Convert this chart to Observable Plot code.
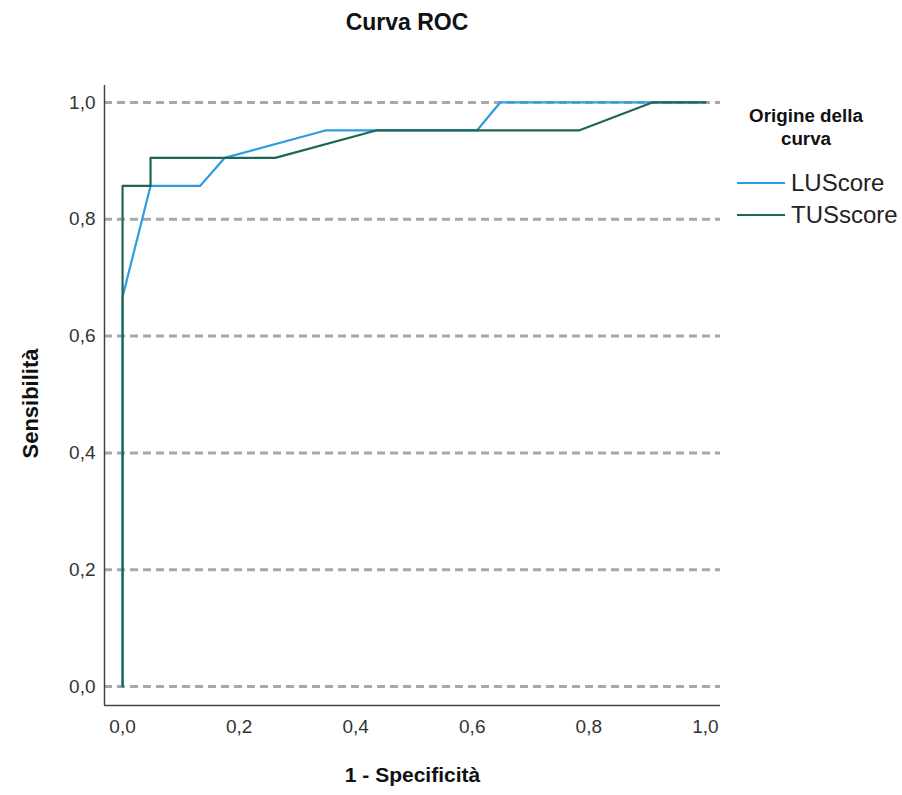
<!DOCTYPE html>
<html>
<head>
<meta charset="utf-8">
<script src="https://cdn.jsdelivr.net/npm/d3@7"></script>
<script src="https://cdn.jsdelivr.net/npm/@observablehq/plot@0.6"></script>
<style>
  body { margin: 0; background: #fff; font-family: "Liberation Sans", Arial, sans-serif; }
  #wrap { position: relative; width: 902px; height: 795px; }
  #title { position: absolute; left: 0; top: 0; width: 814px; height: 50px; text-align: center; font-weight: bold; font-size: 23px; line-height: 44px; color: #111; }
  #chart { position: absolute; left: 0; top: 50px; }
  #legend { position: absolute; left: 730px; top: 104px; width: 172px; color: #111; }
  #legend .lt { font-weight: bold; font-size: 18.8px; text-align: center; line-height: 23px; width: 152px; }
  #legend .it { display: flex; align-items: center; height: 32px; font-size: 24px; color: #222; }
  #legend .sw { width: 48px; height: 2.5px; margin-left: 7px; margin-right: 6px; }
</style>
</head>
<body>
<div id="wrap">
  <div id="title">Curva ROC</div>
  <div id="chart"></div>
  <div id="legend"></div>
</div>
<script>
const seriesNames = ["LUScore", "TUSscore"];
const seriesColors = ["#2f9be0", "#1e6657"];
const lusX = [0, 0, 0.048, 0.133, 0.175, 0.348, 0.608, 0.648, 1.0];
const lusY = [0, 0.667, 0.857, 0.857, 0.905, 0.952, 0.952, 1.0, 1.0];
const tusX = [0, 0, 0.048, 0.048, 0.262, 0.435, 0.783, 0.909, 1.0];
const tusY = [0, 0.857, 0.857, 0.905, 0.905, 0.952, 0.952, 1.0, 1.0];
const ticks = [0, 0.2, 0.4, 0.6, 0.8, 1.0];
const xDomain = [-0.031, 1.026];
const yDomain = [-0.0325, 1.029];

const data = [
  ...lusX.map((x, i) => ({series: seriesNames[0], x, y: lusY[i]})),
  ...tusX.map((x, i) => ({series: seriesNames[1], x, y: tusY[i]}))
];
const fmt = d => d3.format(".1f")(d).replace(".", ",");

const chart = Plot.plot({
  width: 902,
  height: 745,
  marginLeft: 104,
  marginRight: 182,
  marginTop: 35,
  marginBottom: 90,
  style: { fontFamily: "Liberation Sans, Arial, sans-serif", fontSize: "19px", color: "#333", background: "#fff" },
  x: { domain: xDomain, label: null },
  y: { domain: yDomain, label: null },
  color: { domain: seriesNames, range: seriesColors },
  marks: [
    Plot.ruleY(ticks, { stroke: "#a8a8a8", strokeWidth: 3, strokeDasharray: "8,5" }),
    Plot.ruleX([xDomain[0]], { stroke: "#444", strokeWidth: 1.5 }),
    Plot.ruleY([yDomain[0]], { stroke: "#444", strokeWidth: 1.5 }),
    Plot.line(data, { x: "x", y: "y", z: "series", stroke: "series", strokeWidth: 2.2 }),
    Plot.axisX({ ticks, tickFormat: fmt, tickSize: 0, tickPadding: 14, fontSize: 19, label: null }),
    Plot.axisY({ ticks, tickFormat: fmt, tickSize: 0, tickPadding: 9, fontSize: 19, label: null }),
    Plot.text(["1 - Specificità"], { frameAnchor: "bottom", dy: 76, fontWeight: "bold", fontSize: 21, fill: "#111" }),
    Plot.text(["Sensibilità"], { frameAnchor: "left", textAnchor: "middle", dx: -74, dy: 8, rotate: -90, fontWeight: "bold", fontSize: 22, fill: "#111" })
  ]
});
document.getElementById("chart").appendChild(chart);

const lg = document.getElementById("legend");
lg.innerHTML = `<div class="lt">Origine della<br>curva</div><div style="height:17px"></div>` +
  seriesNames.map((n, i) => `<div class="it"><span class="sw" style="background:${seriesColors[i]}"></span>${n}</div>`).join("");
</script>
</body>
</html>
